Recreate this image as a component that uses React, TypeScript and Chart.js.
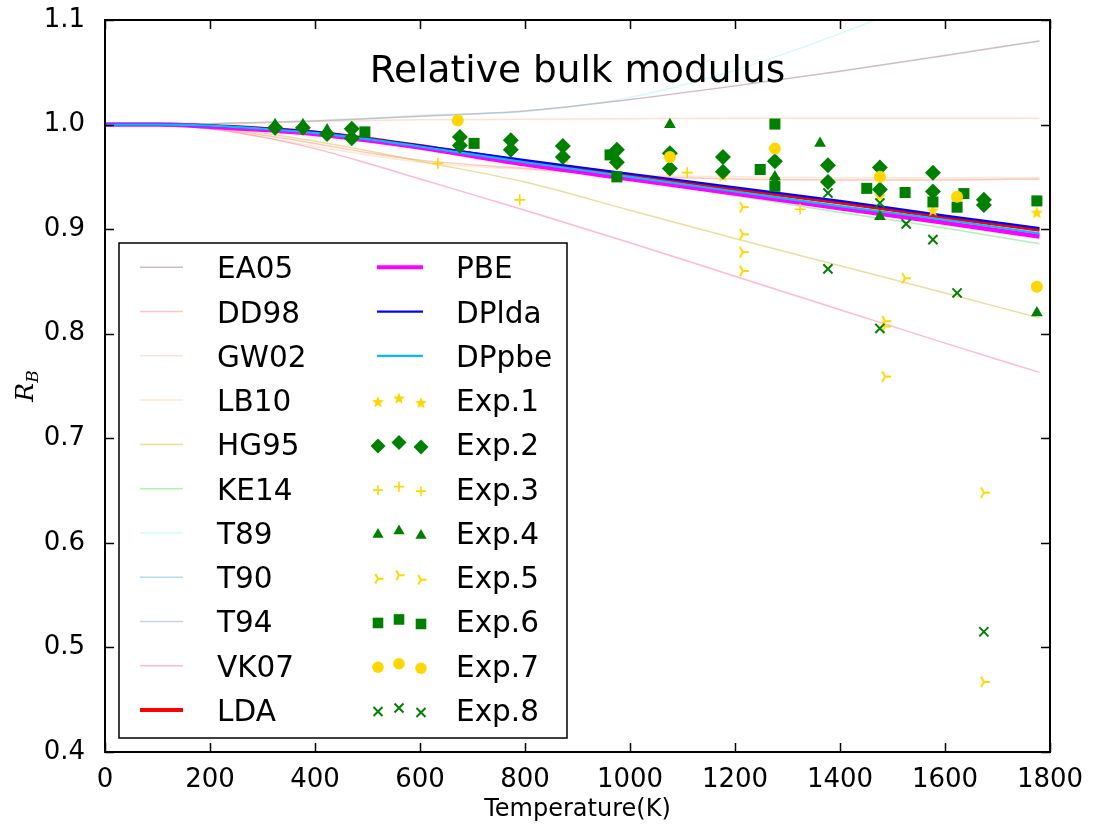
import React, { useEffect, useRef } from "react";
import { Chart, registerables } from "chart.js";

Chart.register(...registerables);

// ---------- data ----------
const temps = [0, 100, 200, 300, 400, 500, 600, 800, 1000, 1200, 1400, 1600, 1780];

const ea05 = [1.0, 1.0, 1.0008, 1.002, 1.0035, 1.0055, 1.008, 1.013, 1.024, 1.037, 1.051, 1.066, 1.08];
const dd98 = [1.0, 0.9995, 0.997, 0.99, 0.982, 0.973, 0.966, 0.958, 0.951, 0.948, 0.947, 0.947, 0.948];
const gw02 = [1.0, 1.0005, 1.001, 1.002, 1.003, 1.004, 1.0045, 1.005, 1.0055, 1.006, 1.006, 1.006, 1.006];
const lb10 = [1.0, 0.9995, 0.996, 0.988, 0.979, 0.971, 0.964, 0.957, 0.952, 0.95, 0.949, 0.949, 0.949];
const hg95 = [1.0, 1.0, 0.997, 0.992, 0.984, 0.975, 0.965, 0.945, 0.918, 0.891, 0.865, 0.839, 0.815];
const ke14 = [1.0, 1.0, 0.999, 0.996, 0.992, 0.986, 0.979, 0.963, 0.948, 0.932, 0.916, 0.901, 0.886];
const t89 = [1.0, 1.0, 1.0008, 1.002, 1.004, 1.006, 1.009, 1.0125, 1.026, 1.052, 1.087, 1.127, 1.165];
const t90 = [1.0, 1.0, 0.999, 0.996, 0.992, 0.986, 0.979, 0.964, 0.95, 0.936, 0.922, 0.908, 0.895];
const t94 = [1.0, 1.0, 0.999, 0.9965, 0.993, 0.987, 0.98, 0.965, 0.952, 0.938, 0.925, 0.911, 0.899];
const vk07 = [1.0, 0.9995, 0.996, 0.988, 0.977, 0.963, 0.948, 0.918, 0.887, 0.855, 0.823, 0.791, 0.763];
const lda = [1.0, 1.0, 0.999, 0.9965, 0.993, 0.987, 0.98, 0.965, 0.952, 0.938, 0.925, 0.911, 0.899];
const pbe = [1.0, 1.0, 0.998, 0.995, 0.991, 0.985, 0.978, 0.962, 0.948, 0.934, 0.92, 0.906, 0.893];
const dplda = [1.0, 1.0, 0.999, 0.9965, 0.993, 0.9865, 0.98, 0.966, 0.953, 0.94, 0.927, 0.913, 0.901];
const dppbe = [1.0, 1.0, 0.999, 0.996, 0.992, 0.986, 0.979, 0.964, 0.95, 0.936, 0.922, 0.909, 0.896];

const exp1T = [377, 676, 876, 975, 1076, 1177, 1276, 1476, 1577, 1623, 1775];
const exp1R = [0.997, 0.981, 0.968, 0.963, 0.957, 0.951, 0.948, 0.932, 0.918, 0.927, 0.916];
const exp2T = [324, 377, 423, 470, 470, 676, 676, 773, 773, 872, 872, 975, 975, 1076, 1076, 1177, 1177, 1276, 1377, 1377, 1476, 1476, 1577, 1577, 1674, 1674];
const exp2R = [0.997, 0.997, 0.991, 0.996, 0.987, 0.988, 0.98, 0.985, 0.976, 0.9795, 0.969, 0.976, 0.964, 0.9725, 0.958, 0.969, 0.955, 0.965, 0.961, 0.945, 0.959, 0.938, 0.954, 0.936, 0.928, 0.923];
const exp3T = [634, 790, 1109, 1324];
const exp3R = [0.963, 0.928, 0.954, 0.919];
const exp4T = [324, 377, 423, 1076, 1276, 1362, 1476, 1775];
const exp4R = [1.0, 1.0, 0.995, 1.0, 0.95, 0.982, 0.912, 0.82];
const exp5T = [1215, 1215, 1215, 1215, 1486, 1486, 1486, 1524, 1674, 1674];
const exp5R = [0.921, 0.895, 0.878, 0.86, 0.812, 0.807, 0.759, 0.853, 0.648, 0.467];
const exp6T = [495, 703, 962, 975, 1248, 1276, 1276, 1451, 1524, 1577, 1623, 1636, 1775];
const exp6R = [0.993, 0.982, 0.971, 0.95, 0.957, 1.0005, 0.941, 0.939, 0.935, 0.926, 0.921, 0.934, 0.927];
const exp7T = [672, 1076, 1276, 1476, 1623, 1775];
const exp7R = [1.004, 0.969, 0.977, 0.95, 0.931, 0.845];
const exp8T = [1276, 1377, 1377, 1476, 1476, 1526, 1577, 1623, 1674];
const exp8R = [0.945, 0.9345, 0.862, 0.925, 0.805, 0.905, 0.89, 0.839, 0.515];

const xTicks = [0, 200, 400, 600, 800, 1000, 1200, 1400, 1600, 1800];
const yTicks = [0.4, 0.5, 0.6, 0.7, 0.8, 0.9, 1.0, 1.1];

const GOLD = "#FFD700";
const GREEN = "#008000";

type Model = { name: string; vals: number[]; color: string; width: number; legendWidth: number };
const models: Model[] = [
  { name: "EA05", vals: ea05, color: "rgba(160,120,135,0.5)", width: 1.5, legendWidth: 1.5 },
  { name: "DD98", vals: dd98, color: "rgba(250,128,114,0.45)", width: 1.5, legendWidth: 1.5 },
  { name: "GW02", vals: gw02, color: "rgba(255,170,130,0.35)", width: 1.5, legendWidth: 1.5 },
  { name: "LB10", vals: lb10, color: "rgba(255,190,120,0.35)", width: 1.5, legendWidth: 1.5 },
  { name: "HG95", vals: hg95, color: "rgba(215,190,60,0.5)", width: 1.5, legendWidth: 1.5 },
  { name: "KE14", vals: ke14, color: "rgba(60,220,60,0.4)", width: 1.5, legendWidth: 1.5 },
  { name: "T89", vals: t89, color: "rgba(120,235,235,0.3)", width: 1.5, legendWidth: 1.5 },
  { name: "T90", vals: t90, color: "rgba(70,160,220,0.4)", width: 1.5, legendWidth: 1.5 },
  { name: "T94", vals: t94, color: "rgba(100,130,210,0.35)", width: 1.5, legendWidth: 1.5 },
  { name: "VK07", vals: vk07, color: "rgba(255,105,140,0.45)", width: 1.5, legendWidth: 1.5 },
  { name: "LDA", vals: lda, color: "#ff0000", width: 3, legendWidth: 4 },
  { name: "PBE", vals: pbe, color: "#ff00ff", width: 4.5, legendWidth: 4 },
  { name: "DPlda", vals: dplda, color: "#0000ff", width: 2.2, legendWidth: 2.2 },
  { name: "DPpbe", vals: dppbe, color: "#00bfff", width: 2.2, legendWidth: 2.2 },
];

type Exp = { name: string; t: number[]; r: number[]; kind: string; color: string };
const exps: Exp[] = [
  { name: "Exp.1", t: exp1T, r: exp1R, kind: "star", color: GOLD },
  { name: "Exp.2", t: exp2T, r: exp2R, kind: "diamond", color: GREEN },
  { name: "Exp.3", t: exp3T, r: exp3R, kind: "plus", color: GOLD },
  { name: "Exp.4", t: exp4T, r: exp4R, kind: "triangle", color: GREEN },
  { name: "Exp.5", t: exp5T, r: exp5R, kind: "tri", color: GOLD },
  { name: "Exp.6", t: exp6T, r: exp6R, kind: "square", color: GREEN },
  { name: "Exp.7", t: exp7T, r: exp7R, kind: "circle", color: GOLD },
  { name: "Exp.8", t: exp8T, r: exp8R, kind: "x", color: GREEN },
];

// ---------- marker helpers ----------
function starPath(ctx: CanvasRenderingContext2D, cx: number, cy: number, R: number, r: number) {
  ctx.beginPath();
  for (let i = 0; i < 10; i++) {
    const a = -Math.PI / 2 + (i * Math.PI) / 5;
    const rad = i % 2 === 0 ? R : r;
    ctx.lineTo(cx + rad * Math.cos(a), cy + rad * Math.sin(a));
  }
  ctx.closePath();
}
function triPath(ctx: CanvasRenderingContext2D, cx: number, cy: number, r: number) {
  ctx.beginPath();
  for (const a of [0, (2 * Math.PI) / 3, (4 * Math.PI) / 3]) {
    ctx.moveTo(cx, cy);
    ctx.lineTo(cx + r * Math.cos(a), cy + r * Math.sin(a));
  }
}
function makeStar(): HTMLCanvasElement {
  const c = document.createElement("canvas");
  c.width = 16;
  c.height = 16;
  const ctx = c.getContext("2d")!;
  starPath(ctx, 8, 8.6, 6.5, 2.8);
  ctx.fillStyle = GOLD;
  ctx.fill();
  return c;
}
function makeTri(): HTMLCanvasElement {
  const c = document.createElement("canvas");
  c.width = 16;
  c.height = 16;
  const ctx = c.getContext("2d")!;
  triPath(ctx, 8, 8, 6);
  ctx.strokeStyle = GOLD;
  ctx.lineWidth = 2;
  ctx.stroke();
  return c;
}

function drawLegendMarker(ctx: CanvasRenderingContext2D, kind: string, color: string, x: number, y: number) {
  ctx.save();
  ctx.fillStyle = color;
  ctx.strokeStyle = color;
  switch (kind) {
    case "star":
      starPath(ctx, x, y + 0.6, 6.2, 2.7);
      ctx.fill();
      break;
    case "diamond":
      ctx.beginPath();
      ctx.moveTo(x, y - 7.5);
      ctx.lineTo(x + 7.5, y);
      ctx.lineTo(x, y + 7.5);
      ctx.lineTo(x - 7.5, y);
      ctx.closePath();
      ctx.fill();
      break;
    case "plus":
      ctx.lineWidth = 1.6;
      ctx.beginPath();
      ctx.moveTo(x - 5, y);
      ctx.lineTo(x + 5, y);
      ctx.moveTo(x, y - 5);
      ctx.lineTo(x, y + 5);
      ctx.stroke();
      break;
    case "triangle": {
      const r = 6.5;
      ctx.beginPath();
      ctx.moveTo(x, y - r);
      ctx.lineTo(x + r * 0.866, y + r * 0.5);
      ctx.lineTo(x - r * 0.866, y + r * 0.5);
      ctx.closePath();
      ctx.fill();
      break;
    }
    case "tri":
      ctx.lineWidth = 2;
      triPath(ctx, x, y, 5.5);
      ctx.stroke();
      break;
    case "square":
      ctx.fillRect(x - 5.3, y - 5.3, 10.6, 10.6);
      break;
    case "circle":
      ctx.beginPath();
      ctx.arc(x, y, 5.8, 0, Math.PI * 2);
      ctx.fill();
      break;
    case "x":
      ctx.lineWidth = 2;
      ctx.beginPath();
      ctx.moveTo(x - 4.5, y - 4.5);
      ctx.lineTo(x + 4.5, y + 4.5);
      ctx.moveTo(x + 4.5, y - 4.5);
      ctx.lineTo(x - 4.5, y + 4.5);
      ctx.stroke();
      break;
  }
  ctx.restore();
}

// ---------- decoration plugin ----------
const decorPlugin = {
  id: "decor",
  afterDraw(chart: any) {
    const { ctx, chartArea: a, scales } = chart;
    const xs = scales.x;
    const ys = scales.y;
    ctx.save();

    // ticks (inward, all four sides)
    ctx.strokeStyle = "#000";
    ctx.lineWidth = 1.5;
    ctx.beginPath();
    for (const v of xTicks) {
      const px = Math.round(xs.getPixelForValue(v)) + 0.5;
      ctx.moveTo(px, a.bottom);
      ctx.lineTo(px, a.bottom - 9);
      ctx.moveTo(px, a.top);
      ctx.lineTo(px, a.top + 9);
    }
    for (const v of yTicks) {
      const py = Math.round(ys.getPixelForValue(v)) + 0.5;
      ctx.moveTo(a.left, py);
      ctx.lineTo(a.left + 9, py);
      ctx.moveTo(a.right, py);
      ctx.lineTo(a.right - 9, py);
    }
    ctx.stroke();

    // frame
    ctx.lineWidth = 2;
    ctx.strokeRect(a.left, a.top, a.right - a.left, a.bottom - a.top);

    // title inside plot
    ctx.fillStyle = "#000";
    ctx.font = "37.5px 'DejaVu Sans'";
    ctx.textAlign = "center";
    ctx.textBaseline = "alphabetic";
    ctx.fillText("Relative bulk modulus", (a.left + a.right) / 2, a.top + 62);

    // x label
    ctx.font = "24px 'DejaVu Sans'";
    ctx.fillText("Temperature(K)", (a.left + a.right) / 2, a.bottom + 64);

    // y label R_B
    ctx.save();
    ctx.translate(33, 386);
    ctx.rotate(-Math.PI / 2);
    ctx.textAlign = "left";
    ctx.font = "italic 25px 'DejaVu Serif'";
    const wR = ctx.measureText("R").width;
    ctx.font = "italic 17px 'DejaVu Serif'";
    const wB = ctx.measureText("B").width;
    const start = -(wR + wB) / 2;
    ctx.font = "italic 25px 'DejaVu Serif'";
    ctx.fillText("R", start, 0);
    ctx.font = "italic 17px 'DejaVu Serif'";
    ctx.fillText("B", start + wR, 5);
    ctx.restore();

    // legend
    const L = a.left + 14;
    const T = a.top + 223;
    const W = 448;
    const H = 495;
    ctx.fillStyle = "#fff";
    ctx.fillRect(L, T, W, H);
    ctx.strokeStyle = "#000";
    ctx.lineWidth = 1.5;
    ctx.strokeRect(L, T, W, H);

    const rowY = (i: number) => T + 24.3 + i * 44.27;
    ctx.font = "29.5px 'DejaVu Sans'";
    ctx.textAlign = "left";
    ctx.textBaseline = "alphabetic";

    const col1 = models.slice(0, 11);
    const col2Lines = models.slice(11);
    col1.forEach((m, i) => {
      const y = rowY(i);
      ctx.strokeStyle = m.color;
      ctx.lineWidth = m.legendWidth;
      ctx.beginPath();
      ctx.moveTo(L + 21, y);
      ctx.lineTo(L + 64, y);
      ctx.stroke();
      ctx.fillStyle = "#000";
      ctx.fillText(m.name, L + 98, y + 11);
    });
    col2Lines.forEach((m, i) => {
      const y = rowY(i);
      ctx.strokeStyle = m.color;
      ctx.lineWidth = m.legendWidth;
      ctx.beginPath();
      ctx.moveTo(L + 258, y);
      ctx.lineTo(L + 304, y);
      ctx.stroke();
      ctx.fillStyle = "#000";
      ctx.fillText(m.name, L + 337, y + 11);
    });
    const offs = [1.5, -2, 2.5];
    const mx = [L + 259, L + 280, L + 302];
    exps.forEach((e, k) => {
      const y = rowY(k + 3);
      for (let j = 0; j < 3; j++) drawLegendMarker(ctx, e.kind, e.color, mx[j], y + offs[j]);
      ctx.fillStyle = "#000";
      ctx.fillText(e.name, L + 337, y + 11);
    });

    ctx.restore();
  },
};

export default function App() {
  const ref = useRef<HTMLCanvasElement | null>(null);

  useEffect(() => {
    document.body.style.margin = "0";
    const canvas = ref.current;
    if (!canvas) return;

    const star = makeStar();
    const tri = makeTri();

    const lineSets = models.map((m, i) => ({
      label: m.name,
      data: temps.map((t, j) => ({ x: t, y: m.vals[j] })),
      showLine: true,
      borderColor: m.color,
      backgroundColor: m.color,
      borderWidth: m.width,
      pointRadius: 0,
      cubicInterpolationMode: "monotone" as const,
      order: 100 - i,
    }));

    const styleOf = (kind: string): any => {
      switch (kind) {
        case "star": return { pointStyle: star, pointRadius: 7 };
        case "diamond": return { pointStyle: "rectRot", pointRadius: 8 };
        case "plus": return { pointStyle: "cross", pointRadius: 5.5, pointBorderWidth: 1.6 };
        case "triangle": return { pointStyle: "triangle", pointRadius: 6.8 };
        case "tri": return { pointStyle: tri, pointRadius: 7 };
        case "square": return { pointStyle: "rect", pointRadius: 7.8 };
        case "circle": return { pointStyle: "circle", pointRadius: 6 };
        case "x": return { pointStyle: "crossRot", pointRadius: 6.5, pointBorderWidth: 2 };
      }
      return {};
    };

    const expSets = exps.map((e, k) => ({
      label: e.name,
      data: e.t.map((t, j) => ({ x: t, y: e.r[j] })),
      showLine: false,
      pointBackgroundColor: e.color,
      pointBorderColor: e.color,
      pointBorderWidth: 0,
      borderColor: e.color,
      backgroundColor: e.color,
      order: 20 - k,
      ...styleOf(e.kind),
    }));

    const chart = new Chart(canvas, {
      type: "scatter",
      data: { datasets: [...lineSets, ...expSets] as any },
      options: {
        animation: false,
        responsive: false,
        events: [],
        layout: { padding: { top: 20, right: 44, left: 0, bottom: 0 } },
        plugins: {
          legend: { display: false },
          tooltip: { enabled: false },
          title: { display: false },
        },
        scales: {
          x: {
            type: "linear",
            min: 0,
            max: 1800,
            afterFit: (s: any) => {
              s.height = 75;
              s.paddingLeft = 0;
              s.paddingRight = 0;
            },
            afterBuildTicks: (s: any) => { s.ticks = xTicks.map((v) => ({ value: v })); },
            ticks: {
              font: { family: "'DejaVu Sans'", size: 26 },
              color: "#000",
              padding: 5,
              maxRotation: 0,
              autoSkip: false,
              callback: (v: any) => String(v),
            },
            grid: { display: false },
            border: { display: false },
          },
          y: {
            type: "linear",
            min: 0.4,
            max: 1.1,
            afterFit: (s: any) => {
              s.width = 105;
              s.paddingTop = 0;
              s.paddingBottom = 0;
            },
            afterBuildTicks: (s: any) => { s.ticks = yTicks.map((v) => ({ value: v })); },
            ticks: {
              font: { family: "'DejaVu Sans'", size: 26 },
              color: "#000",
              padding: 12,
              autoSkip: false,
              callback: (v: any) => Number(v).toFixed(1),
            },
            grid: { display: false },
            border: { display: false },
          },
        },
      },
      plugins: [decorPlugin],
    });

    return () => chart.destroy();
  }, []);

  return (
    <div style={{ width: 1094, height: 827, background: "#fff" }}>
      <canvas ref={ref} width={1094} height={827} style={{ display: "block" }} />
    </div>
  );
}
